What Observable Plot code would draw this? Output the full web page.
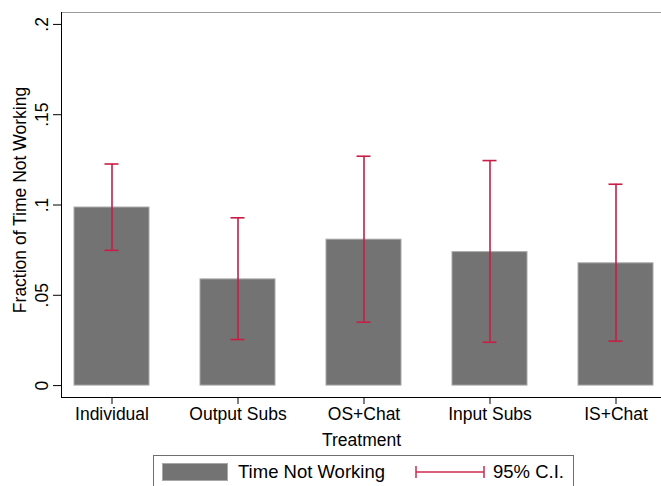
<!DOCTYPE html>
<html>
<head>
<meta charset="utf-8">
<script src="https://cdn.jsdelivr.net/npm/d3@7"></script>
<script src="https://cdn.jsdelivr.net/npm/@observablehq/plot@0.6"></script>
<style>
  html, body { margin: 0; padding: 0; background: #fff; overflow: hidden; }
  body { width: 661px; height: 486px; position: relative; font-family: "Liberation Sans", Arial, sans-serif; }
  #legend { position: absolute; left: 153px; top: 455px; width: 421px; height: 44px; border: 1px solid #6e6e6e; box-sizing: border-box; background: #fff; }
  #legend .sw { position: absolute; left: 8px; top: 7px; width: 66px; height: 18px; background: #737373; border: 1px solid #a8a8a8; box-sizing: border-box; }
  #legend .t { position: absolute; font-size: 18.5px; line-height: 18px; top: 7px; color: #000; white-space: nowrap; }
  #legend svg { position: absolute; left: 261px; top: 9px; }
</style>
</head>
<body>
<div id="chart"></div>
<div id="legend">
  <div class="sw"></div>
  <div class="t" style="left:84px">Time Not Working</div>
  <svg width="70" height="14"><line x1="1" y1="7" x2="69" y2="7" stroke="#d1284f" stroke-width="1.5"/><line x1="1" y1="1" x2="1" y2="13" stroke="#d1284f" stroke-width="1.5"/><line x1="69" y1="1" x2="69" y2="13" stroke="#d1284f" stroke-width="1.5"/></svg>
  <div class="t" style="left:339px">95% C.I.</div>
</div>
<script>
const categories = ["Individual", "Output Subs", "OS+Chat", "Input Subs", "IS+Chat"];
const means  = [0.0986, 0.0588, 0.0808, 0.0739, 0.0677];
const ciLow  = [0.0749, 0.0255, 0.0351, 0.0240, 0.0246];
const ciHigh = [0.1227, 0.0929, 0.1270, 0.1246, 0.1115];
const yTicks = [0, 0.05, 0.1, 0.15, 0.2];
const yTitle = "Fraction of Time Not Working";
const xTitle = "Treatment";

const data = categories.map((c, i) => ({cat: c, val: means[i], lo: ciLow[i], hi: ciHigh[i]}));
const fmt = d => d === 0 ? "0" : d3.format(".2~f")(d).replace(/^0/, "");
const ciColor = "#c81e46";

const chart = Plot.plot({
  width: 661,
  height: 452,
  marginTop: 12,
  marginBottom: 55,
  marginLeft: 61,
  marginRight: 0,
  style: {fontFamily: "'Liberation Sans', Arial, sans-serif", fontSize: "17.5px", color: "#000", background: "#fff", overflow: "visible"},
  x: {domain: categories, range: [47.25, 679.75], paddingInner: 0.407, paddingOuter: 0.2035, align: 0.5},
  y: {domain: [-0.0066, 0.2066]},
  marks: [
    Plot.frame({anchor: "top", stroke: "#9a9a9a"}),
    Plot.barY(data, {x: "cat", y: "val", fill: "#737373", stroke: "#a8a8a8", strokeWidth: 1}),
    Plot.ruleX(data, {x: "cat", y1: "lo", y2: "hi", stroke: ciColor, strokeWidth: 1.6}),
    Plot.tickY(data, {x: "cat", y: "lo", stroke: ciColor, strokeWidth: 1.6, insetLeft: 30.5, insetRight: 30.5}),
    Plot.tickY(data, {x: "cat", y: "hi", stroke: ciColor, strokeWidth: 1.6, insetLeft: 30.5, insetRight: 30.5}),
    Plot.axisY({ticks: yTicks, tickFormat: fmt, tickSize: 8, tickPadding: 6, tickRotate: -90, label: null}),
    Plot.text([yTitle], {frameAnchor: "left", rotate: -90, textAnchor: "middle", lineAnchor: "top", dx: -48, dy: -5, fill: "#000"}),
    Plot.axisX({tickSize: 7, tickPadding: 3, label: xTitle, labelAnchor: "center", labelArrow: "none", labelOffset: 48}),
    Plot.frame({anchor: "left", stroke: "#000"}),
    Plot.frame({anchor: "bottom", stroke: "#000"})
  ]
});
document.getElementById("chart").appendChild(chart);
</script>
</body>
</html>
